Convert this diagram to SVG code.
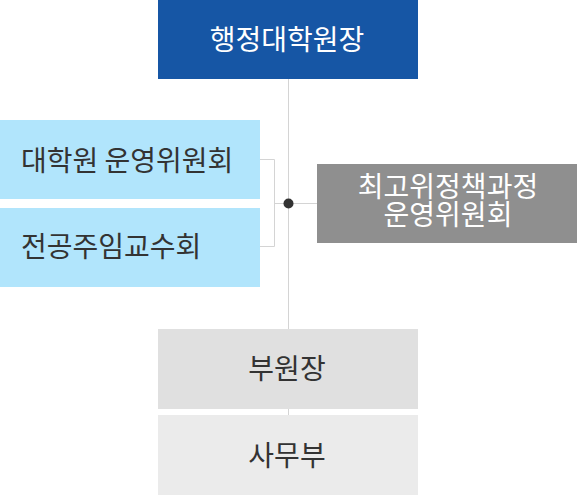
<svg xmlns="http://www.w3.org/2000/svg" width="577" height="495" viewBox="0 0 577 495">
<style>
text{font-family:"Noto Sans CJK KR","Noto Sans",sans-serif;font-size:28px}
.w{fill:#ffffff}
.d{fill:#333333}
.c{text-anchor:middle}
.ln{stroke:#d4d4d4;stroke-width:1;fill:none}
</style>
<rect width="577" height="495" fill="#ffffff"/>
<g id="connectors">
<line class="ln" x1="288.5" y1="79" x2="288.5" y2="415"/>
<polyline class="ln" points="260,159.5 274.5,159.5 274.5,246.5 260,246.5"/>
<line class="ln" x1="274.5" y1="203.5" x2="317" y2="203.5"/>
<circle cx="288.5" cy="203.5" r="5" fill="#333333"/>
</g>
<g id="dean">
<rect x="158" y="0" width="260" height="79" fill="#1656a5"/>
<text class="w c" x="287" y="50">행정대학원장</text>
</g>
<g id="committee1">
<rect x="0" y="120" width="260" height="79" fill="#b1e5fc"/>
<text class="d" x="21" y="171">대학원 운영위원회</text>
</g>
<g id="committee2">
<rect x="0" y="208" width="260" height="79" fill="#b1e5fc"/>
<text class="d" x="21" y="257">전공주임교수회</text>
</g>
<g id="topcommittee">
<rect x="317" y="164" width="260" height="79" fill="#8f8f8f"/>
<text class="w c" x="448" y="197">최고위정책과정</text>
<text class="w c" x="448" y="225">운영위원회</text>
</g>
<g id="vicedean">
<rect x="158" y="329" width="260" height="80" fill="#e0e0e0"/>
<text class="d c" x="287" y="379">부원장</text>
</g>
<g id="office">
<rect x="158" y="415" width="260" height="80" fill="#ebebeb"/>
<text class="d c" x="287" y="466">사무부</text>
</g>
</svg>
